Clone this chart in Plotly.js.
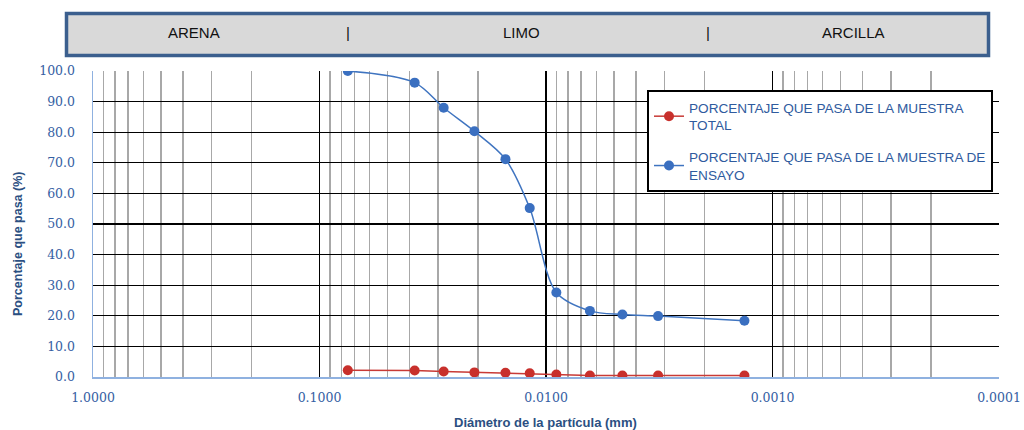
<!DOCTYPE html>
<html>
<head>
<meta charset="utf-8">
<script src="https://cdn.plot.ly/plotly-3.0.1.min.js"></script>
<style>html,body{margin:0;padding:0;background:#fff;}#chart{width:1024px;height:430px;}</style>
</head>
<body>
<div id="chart"></div>
<script>
// ---- data ----
const diametro = [0.075, 0.038, 0.0283, 0.0207, 0.0151, 0.0118, 0.0090, 0.0064, 0.0046, 0.0032, 0.00133];
const pasaEnsayo = [100.0, 96.2, 88.0, 80.3, 71.2, 55.2, 27.6, 21.6, 20.4, 19.9, 18.4];
const pasaTotal = [2.2, 2.1, 1.8, 1.5, 1.4, 1.2, 0.8, 0.5, 0.5, 0.5, 0.45];
const xTickVals = [1, 0.1, 0.01, 0.001, 0.0001];
const xTickText = ['1.0000', '0.1000', '0.0100', '0.0010', '0.0001'];
const headerLabels = ['ARENA', '|', 'LIMO', '|', 'ARCILLA'];
const nombreTotal = 'PORCENTAJE QUE PASA DE LA MUESTRA<br>TOTAL';
const nombreEnsayo = 'PORCENTAJE QUE PASA DE LA MUESTRA DE<br>ENSAYO';

// ---- layout helpers (pixel -> paper) ----
const W = 1024, H = 430;
const M = {l: 93, r: 25, t: 71, b: 53};
const pw = W - M.l - M.r, ph = H - M.t - M.b;
const px = x => (x - M.l) / pw;
const py = y => (H - M.b - y) / ph;

const minorVals = [];
[1, 0.1, 0.01, 0.001].forEach(d => { for (let k = 2; k <= 9; k++) minorVals.push(d / 10 * k); });

const headerX = [194, 348, 521, 708, 853];

const traces = [
  {
    x: diametro, y: pasaTotal, name: nombreTotal, type: 'scatter', mode: 'lines+markers',
    legendgroup: 'total',
    line: {color: '#c83a36', width: 1.5},
    marker: {color: '#c8302c', size: 10}
  },
  {
    x: diametro, y: pasaEnsayo, name: nombreEnsayo, type: 'scatter', mode: 'lines+markers',
    legendgroup: 'ensayo',
    line: {color: '#3f74c0', width: 1.5, shape: 'spline', smoothing: 0.9},
    marker: {color: '#3a6fc0', size: 10}
  }
];

const shapes = [
  {type: 'rect', xref: 'paper', yref: 'paper', x0: px(66.5), x1: px(988.5), y0: py(55.5), y1: py(13.5),
   fillcolor: '#d9d9d9', line: {color: '#3b5f8e', width: 3.5}, layer: 'above'}
];

const annotations = headerLabels.map((t, i) => ({
  text: t, xref: 'paper', yref: 'paper', x: px(headerX[i]), y: py(32),
  xanchor: 'center', yanchor: 'middle', showarrow: false,
  font: {family: 'Liberation Sans, Arial, sans-serif', size: 15, color: '#111'}
}));
annotations.push({
  text: '<b>Diámetro de la partícula (mm)</b>', xref: 'paper', yref: 'paper', x: px(545), y: py(422),
  xanchor: 'center', yanchor: 'middle', showarrow: false,
  font: {family: 'Liberation Sans, Arial, sans-serif', size: 13, color: '#2b4f82'}
});
annotations.push({
  text: '<b>Porcentaje que pasa (%)</b>', xref: 'paper', yref: 'paper', x: px(18), y: py(244),
  xanchor: 'center', yanchor: 'middle', showarrow: false, textangle: -90,
  font: {family: 'Liberation Sans, Arial, sans-serif', size: 12.5, color: '#2b4f82'}
});

const tickFont = {family: 'DejaVu Serif, Liberation Serif, serif', size: 12.5, color: '#3560a3'};

const layout = {
  width: W, height: H,
  margin: M,
  paper_bgcolor: '#fff', plot_bgcolor: '#fff',
  showlegend: true,
  xaxis: {
    type: 'log', range: [0, -4],
    tickmode: 'array', tickvals: xTickVals, ticktext: xTickText,
    tickfont: tickFont, ticks: '', ticklabelstandoff: 8,
    showgrid: true, gridcolor: '#000', gridwidth: 1.4,
    minor: {tickmode: 'array', tickvals: minorVals, showgrid: true, gridcolor: '#a8a8a8', gridwidth: 1.4, ticks: ''},
    showline: true, linecolor: '#8fb1e0', linewidth: 1.5,
    zeroline: false
  },
  yaxis: {
    range: [0, 100], dtick: 10, tickformat: '.1f',
    tickfont: tickFont, ticks: '', ticklabelstandoff: 14,
    showgrid: true, gridcolor: '#000', gridwidth: 1.3,
    showline: true, linecolor: '#8fb1e0', linewidth: 1.5,
    zeroline: false
  },
  legend: {
    x: px(647), y: py(90), xanchor: 'left', yanchor: 'top',
    bgcolor: '#fff', bordercolor: '#000', borderwidth: 2,
    font: {family: 'Liberation Sans, Arial, sans-serif', size: 13.6, color: '#2f5b9e'},
    traceorder: 'grouped', tracegroupgap: 11
  },
  shapes: shapes,
  annotations: annotations
};

Plotly.newPlot('chart', traces, layout, {displayModeBar: false, staticPlot: true});
</script>
</body>
</html>
